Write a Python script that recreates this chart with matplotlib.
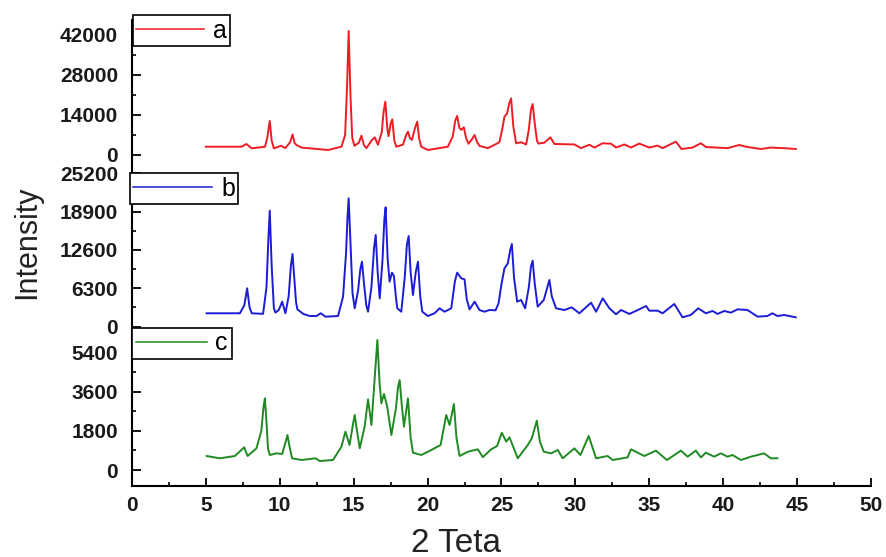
import matplotlib
matplotlib.use("Agg")
import matplotlib.pyplot as plt
from matplotlib.ticker import MultipleLocator

plt.rcParams['font.family'] = ['Liberation Sans', 'DejaVu Sans']

# diffraction patterns (2 theta, counts)
a_x = [5.0, 7.41, 7.74, 8.09, 9.0, 9.15, 9.32, 9.45, 9.6, 10.07, 10.38, 10.7, 10.86, 11.0, 11.13,
       11.47, 13.26, 14.17, 14.42, 14.55, 14.66, 14.78, 14.9, 15.05, 15.35, 15.52, 15.7, 15.86,
       16.2, 16.42, 16.64, 16.9, 17.02, 17.14, 17.28, 17.36, 17.5, 17.61, 17.75, 17.88, 18.33,
       18.55, 18.67, 18.8, 18.94, 19.15, 19.3, 19.42, 19.57, 20.02, 21.37, 21.7, 21.87, 22.0,
       22.15, 22.28, 22.45, 22.6, 22.77, 23.0, 23.18, 23.35, 23.51, 24.07, 24.64, 24.86, 25.05,
       25.2, 25.38, 25.52, 25.65, 25.8, 25.99, 26.33, 26.67, 26.85, 27.0, 27.11, 27.25, 27.4,
       27.5, 27.9, 28.31, 28.58, 29.93, 30.38, 30.95, 31.28, 31.84, 32.41, 32.75, 33.31, 33.76,
       34.32, 35.0, 35.56, 35.9, 36.8, 37.18, 37.93, 38.49, 38.83, 40.29, 41.08, 41.64, 42.55,
       43.22, 44.12, 44.91]
a_y = [2900, 2900, 3850, 2340, 2900, 6000, 11900, 5000, 2340, 3200, 2450, 4500, 7200, 4200, 3500,
       2600, 1750, 2900, 7000, 24000, 43400, 21000, 6000, 3200, 4300, 6750, 3400, 2400,
       5000, 6200, 3600, 8000, 15000, 18650, 9000, 6600, 11000, 12500, 5000, 2900, 3600,
       7000, 8170, 6000, 5300, 9500, 11650, 6000, 2900, 1750, 2900, 6500, 12000, 13650,
       9500, 8800, 9700, 6000, 3950, 5500, 7000, 4500, 3200, 2400, 3850, 4500, 9000,
       13400, 14600, 18000, 19800, 10000, 4100, 4450, 3700, 9000, 16000, 17850, 11000, 5000,
       4000, 4300, 6200, 3850, 3700, 2400, 3600, 2600, 4100, 3950, 2600, 3700, 2600,
       4000, 2600, 3300, 2400, 4670, 2100, 2600, 4100, 2800, 2400, 3500, 2800, 2100,
       2600, 2400, 2100]

b_x = [5.05, 7.3, 7.6, 7.79, 7.95, 8.1, 8.87, 9.1, 9.22, 9.32, 9.45, 9.6, 9.7, 9.93, 10.16, 10.38,
       10.6, 10.75, 10.86, 10.98, 11.1, 11.19, 11.58, 12.03, 12.48, 12.77, 13.09, 13.94, 14.28,
       14.48, 14.58, 14.66, 14.78, 14.92, 15.07, 15.3, 15.45, 15.56, 15.7, 15.85, 15.97, 16.2,
       16.38, 16.49, 16.62, 16.76, 16.95, 17.07, 17.16, 17.3, 17.43, 17.59, 17.72, 17.85, 17.95,
       18.22, 18.45, 18.6, 18.72, 18.85, 19.01, 19.2, 19.35, 19.5, 19.64, 20.02, 20.47, 20.81,
       21.15, 21.6, 21.85, 22.0, 22.28, 22.5, 22.65, 22.84, 23.18, 23.51, 23.85, 24.19, 24.6,
       24.8, 25.0, 25.2, 25.43, 25.58, 25.7, 25.85, 26.06, 26.33, 26.6, 26.85, 27.0, 27.11,
       27.25, 27.45, 27.86, 28.1, 28.24, 28.4, 28.69, 29.26, 29.75, 30.27, 31.06, 31.4, 31.85,
       32.3, 32.75, 33.09, 33.65, 34.32, 34.78, 35.0, 35.56, 35.9, 36.69, 37.25, 37.81, 38.31,
       38.83, 39.28, 39.62, 40.07, 40.52, 40.97, 41.64, 42.32, 42.99, 43.33, 43.67, 44.12, 44.91]
b_y = [2190, 2190, 3500, 6300, 3200, 2190, 2100, 6500, 14000, 19070, 10000, 3000, 2300, 2730, 4100,
       2190, 5000, 10000, 11940, 8000, 4000, 2840, 2100, 1740, 1740, 2190, 1630, 1740, 4920,
       12000, 18000, 21100, 14000, 5500, 3010, 6000, 9500, 10680, 7000, 3500, 2450, 6500,
       13000, 15070, 9000, 4650, 11000, 17500, 19620, 11000, 7390, 8870, 8320, 5000, 3010,
       2450, 8000, 13500, 14900, 9000, 5200, 9000, 10680, 5000, 2450, 1740, 2190, 3010,
       2450, 3010, 7500, 8870, 7940, 7770, 4500, 2840, 4100, 2730, 2450, 2730, 2680,
       3830, 7000, 9590, 10410, 12500, 13590, 8000, 4100, 4380, 3010, 6500, 10000, 10840,
       7000, 3280, 4380, 6500, 7670, 5000, 3010, 2730, 3170, 2190, 3930, 2450, 4650,
       3010, 2020, 2730, 2080, 2840, 3390, 2620, 2620, 2190, 3720, 1530, 1910, 3010,
       2190, 2570, 2080, 2570, 2300, 2840, 2730, 1640, 1740, 2190, 1740, 1910, 1530]

c_x = [5.05, 5.95, 6.96, 7.59, 7.82, 8.42, 8.75, 8.9, 8.99, 9.1, 9.2, 9.32, 9.77, 10.16, 10.4,
       10.52, 10.65, 10.83, 11.47, 12.41, 12.7, 13.6, 14.17, 14.44, 14.72, 14.95, 15.07, 15.2,
       15.41, 15.74, 15.97, 16.2, 16.45, 16.6, 16.75, 16.87, 17.05, 17.27, 17.55, 17.85, 18.0,
       18.11, 18.25, 18.4, 18.67, 18.85, 19.01, 19.57, 20.25, 20.88, 21.26, 21.49, 21.78, 21.95,
       22.16, 22.73, 23.4, 23.74, 24.3, 24.7, 25.02, 25.32, 25.54, 26.1, 26.78, 27.05, 27.39,
       27.6, 27.86, 28.36, 28.81, 29.14, 29.93, 30.34, 30.9, 31.4, 32.18, 32.52, 33.53, 33.76,
       34.66, 35.45, 36.19, 37.14, 37.59, 38.15, 38.49, 38.83, 39.39, 39.84, 40.29, 40.63,
       41.2, 41.87, 42.32, 42.77, 43.22, 43.67]
c_y = [643, 537, 643, 1040, 643, 995, 1800, 2900, 3290, 2200, 1000, 688, 765, 735, 1300,
       1607, 1100, 537, 459, 537, 413, 459, 1070, 1760, 1148, 2100, 2525, 1900,
       995, 1990, 3245, 2066, 4500, 5967, 4000, 3060, 3490, 2905, 1607, 2800, 3800,
       4130, 3000, 1990, 3290, 1500, 796, 688, 918, 1148, 2525, 2066, 3030, 1500,
       643, 840, 950, 590, 950, 1100, 1713, 1300, 1500, 537, 1148, 1455, 2263,
       1300, 840, 765, 918, 537, 995, 688, 1560, 537, 643, 459, 580, 950,
       643, 888, 459, 888, 612, 888, 580, 795, 612, 765, 612, 688,
       459, 612, 688, 765, 537, 537]

labels = ['a', 'b', 'c']
colors = ['#ee1c24', '#1c1cd6', '#1f8a22']
y_steps = [14000, 6300, 1800]
y_limits = [(-3500, 47250), (-1875, 26580), (-734, 6059)]

# panel boxes in figure fractions: left, bottom, width, height
W, H = 887, 557
left = 132 / W
width = (871 - 132) / W
boxes = [(left, 1 - 165 / H, width, 145 / H),
         (left, 1 - 338 / H, width, 173 / H),
         (left, 1 - 486 / H, width, 148 / H)]
legend_pos = [(133, 15, 2.7), (130, 173, 3.15), (132, 328, 2.85)]

fig = plt.figure(figsize=(W / 100, H / 100), dpi=100)

series = [(a_x, a_y), (b_x, b_y), (c_x, c_y)]
axes = []
for i, (xs, ys) in enumerate(series):
    ax = fig.add_axes(boxes[i])
    ax.plot(xs, ys, color=colors[i], lw=1.4, label=labels[i])
    ax.set_xlim(0, 50)
    ax.set_ylim(*y_limits[i])
    ax.patch.set_alpha(0)
    for s in ['top', 'right']:
        ax.spines[s].set_visible(False)
    ax.spines['left'].set_linewidth(1.5)
    ax.spines['bottom'].set_linewidth(1.5)
    if i < 2:
        ax.spines['bottom'].set_visible(False)
        ax.tick_params(axis='x', which='both', bottom=False, labelbottom=False)
    ax.yaxis.set_major_locator(MultipleLocator(y_steps[i]))
    ax.yaxis.set_minor_locator(MultipleLocator(y_steps[i] / 2))
    ax.xaxis.set_major_locator(MultipleLocator(5))
    ax.xaxis.set_minor_locator(MultipleLocator(2.5))
    ax.tick_params(axis='y', which='major', direction='in', length=6.5, width=1.3, pad=10,
                   labelsize=15)
    ax.tick_params(axis='y', which='minor', direction='in', length=3, width=1.2)
    ax.tick_params(axis='x', which='major', direction='in', length=5.5, width=1.3, pad=7,
                   labelsize=15)
    ax.tick_params(axis='x', which='minor', direction='in', length=3, width=1.2)
    for t in ax.get_yticklabels() + ax.get_xticklabels():
        t.set_fontweight('bold')
        t.set_color('#1a1a1a')
    lx, ly, hl = legend_pos[i]
    leg = ax.legend(loc='upper left', bbox_to_anchor=(lx / W, 1 - ly / H),
                    bbox_transform=fig.transFigure, fontsize=18, frameon=True,
                    fancybox=False, framealpha=1, edgecolor='black', borderpad=0.14,
                    borderaxespad=0, handlelength=hl, handletextpad=0.35)
    leg.get_frame().set_linewidth(1.2)
    for line in leg.get_lines():
        line.set_linewidth(1.1)
    axes.append(ax)

fig.text(27 / W, 1 - 242 / H, 'Intensity', rotation=90, ha='center', va='center',
         fontsize=22, color='#222222')
fig.text(456 / W, 1 - 543 / H, '2 Teta', ha='center', va='center', fontsize=24,
         color='#222222')

fig.savefig('out.png', dpi=100)
